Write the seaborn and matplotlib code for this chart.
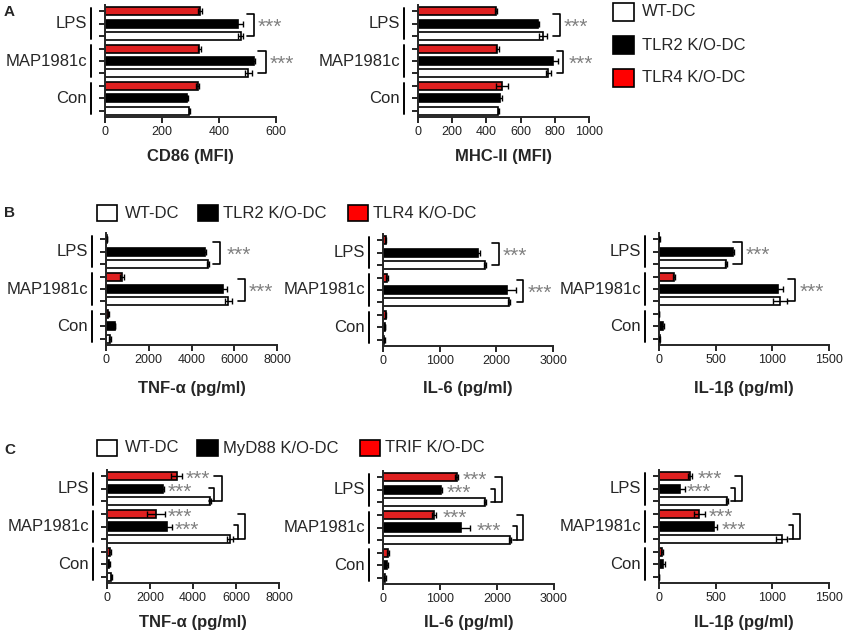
import matplotlib
matplotlib.use('Agg')
import matplotlib.pyplot as plt
from matplotlib.patches import Rectangle
from matplotlib.transforms import offset_copy, blended_transform_factory, ScaledTranslation
import pandas as pd
import seaborn as sns

sns.set_style('ticks')
plt.rcParams['font.family'] = ['Liberation Sans', 'DejaVu Sans']

groups = ['LPS', 'MAP1981c', 'Con']
tlr_names = ['WT-DC', 'TLR2 K/O-DC', 'TLR4 K/O-DC']
myd_names = ['WT-DC', 'MyD88 K/O-DC', 'TRIF K/O-DC']
colors = ['white', 'black', '#ff0000']

# values per group: LPS, MAP1981c, Con
# A - CD86 / MHC-II (MFI)
cd86_wt = [476, 503, 295]
cd86_tlr2 = [468, 523, 289]
cd86_tlr4 = [333, 331, 325]
cd86_wt_err = [8, 12, 2]
cd86_tlr2_err = [15, 5, 2]
cd86_tlr4_err = [8, 5, 5]

mhc_wt = [730, 762, 470]
mhc_tlr2 = [704, 791, 480]
mhc_tlr4 = [456, 464, 489]
mhc_wt_err = [25, 15, 5]
mhc_tlr2_err = [5, 25, 10]
mhc_tlr4_err = [8, 10, 35]

# B - cytokines, TLR2/TLR4 knockouts (pg/ml)
tnf_b_wt = [4787, 5724, 190]
tnf_b_tlr2 = [4632, 5490, 421]
tnf_b_tlr4 = [50, 733, 100]
tnf_b_wt_err = [50, 150, 30]
tnf_b_tlr2_err = [50, 150, 20]
tnf_b_tlr4_err = [20, 100, 20]

il6_b_wt = [1800, 2229, 25]
il6_b_tlr2 = [1682, 2182, 35]
il6_b_tlr4 = [50, 65, 50]
il6_b_wt_err = [15, 15, 5]
il6_b_tlr2_err = [30, 160, 5]
il6_b_tlr4_err = [10, 15, 10]

il1_b_wt = [591, 1068, 5]
il1_b_tlr2 = [650, 1053, 32]
il1_b_tlr4 = [3, 132, 2]
il1_b_wt_err = [10, 60, 2]
il1_b_tlr2_err = [10, 40, 10]
il1_b_tlr4_err = [2, 5, 1]

# C - cytokines, MyD88/TRIF knockouts (pg/ml)
tnf_c_wt = [4791, 5721, 190]
tnf_c_myd = [2589, 2806, 100]
tnf_c_trif = [3240, 2279, 140]
tnf_c_wt_err = [60, 150, 20]
tnf_c_myd_err = [50, 200, 20]
tnf_c_trif_err = [250, 400, 30]

il6_c_wt = [1789, 2228, 35]
il6_c_myd = [1012, 1363, 76]
il6_c_trif = [1292, 895, 94]
il6_c_wt_err = [20, 10, 10]
il6_c_myd_err = [20, 160, 15]
il6_c_trif_err = [30, 30, 20]

il1_c_wt = [603, 1083, 3]
il1_c_myd = [185, 485, 37]
il1_c_trif = [274, 356, 26]
il1_c_wt_err = [10, 50, 1]
il1_c_myd_err = [45, 25, 15]
il1_c_trif_err = [15, 50, 5]

W, H = 851, 644
fig = plt.figure(figsize=(W / 100, H / 100), dpi=100)


def px_rect(x0, x1, y0, y1):
    return [x0 / W, 1 - y1 / H, (x1 - x0) / W, (y1 - y0) / H]


def draw_panel(rect, names, vals, errs, xmax, xstep, xlabel, label_y):
    ax = fig.add_axes(px_rect(*rect))
    rows = []
    for g, grp in enumerate(groups):
        for k in (2, 1, 0):
            rows.append({'slot': f'{grp}|{names[k]}', 'genotype': names[k],
                         'value': vals[k][g], 'err': errs[k][g]})
    df = pd.DataFrame(rows)
    df['pos'] = range(len(df))
    sns.barplot(data=df, x='value', y='slot', hue='genotype', order=list(df['slot']),
                hue_order=names, palette=dict(zip(names, colors)), dodge=False,
                width=0.64, edgecolor='black', linewidth=1.2, errorbar=None,
                legend=False, ax=ax)
    ax.errorbar(df['value'], df['pos'], xerr=df['err'], fmt='none', ecolor='black',
                elinewidth=1, capsize=2.5, capthick=1, zorder=5)
    ax.set_xlim(0, xmax)
    ax.set_xticks(range(0, xmax + 1, xstep))
    ax.set_ylim(8.5, -0.5)
    ax.set_yticks(range(9))
    ax.set_yticklabels([])
    ax.set_ylabel('')
    ax.set_xlabel(xlabel, fontsize=12, fontweight='bold')
    ax.xaxis.set_label_coords(0.5, (rect[3] - label_y) / (rect[3] - rect[2]))
    ax.xaxis.label.set_va('center')
    ax.tick_params(axis='both', direction='out', width=1.2, length=4, color='black',
                   labelsize=9, labelcolor='#222222', pad=2.5)
    ax.spines[['top', 'right']].set_visible(False)
    ax.spines[['left', 'bottom']].set_linewidth(1.4)

    base = blended_transform_factory(ax.transAxes, ax.transData)
    lab_tr = base + ScaledTranslation(-18 / 100, 0, fig.dpi_scale_trans)
    line_tr = base + ScaledTranslation(-14 / 100, 0, fig.dpi_scale_trans)
    for g, grp in enumerate(groups):
        ax.text(0, 3 * g + 1, grp, transform=lab_tr, ha='right', va='center', fontsize=12)
        ax.plot([0, 0], [3 * g - 0.25, 3 * g + 2.25], transform=line_tr,
                color='black', lw=1.4, clip_on=False)
    return ax


def stars(ax, x, y):
    tr = offset_copy(ax.transData, fig=fig, x=0, y=-6.5, units='points')
    ax.text(x, y, '***', transform=tr, ha='left', va='baseline',
            fontsize=15, color='#808080')


def sig_simple(ax, spec):
    for g, (xl, xv, xt) in enumerate(spec):
        y0, y1 = 3 * g + 0.2, 3 * g + 2
        ax.plot([xl, xv, xv, xl], [y0, y0, y1, y1], color='black', lw=1.2,
                clip_on=False)
        stars(ax, xt, 3 * g + 1)


def sig_double(ax, star_x, spec):
    for g, (xi, xo) in enumerate(spec):
        stars(ax, star_x[2 * g], 3 * g)
        stars(ax, star_x[2 * g + 1], 3 * g + 1)
        d = (xo - xi) * 0.6
        ax.plot([xi, xo, xo, xi - d], [3 * g, 3 * g, 3 * g + 2, 3 * g + 2],
                color='black', lw=1.2, clip_on=False)
        ax.plot([xi - d, xi, xi], [3 * g + 0.9, 3 * g + 0.9, 3 * g + 2],
                color='black', lw=1.2, clip_on=False)


def legend_boxes(items, y, h):
    for x0, x1, xt, label, color in items:
        fig.add_artist(Rectangle((x0 / W, 1 - (y + h / 2) / H), (x1 - x0) / W, h / H,
                                 transform=fig.transFigure, facecolor=color,
                                 edgecolor='black', lw=1.2))
        fig.text(xt / W, 1 - y / H, label, va='center', ha='left', fontsize=12)


# row A
ax = draw_panel((105, 276, 5, 117), tlr_names,
                [cd86_wt, cd86_tlr2, cd86_tlr4],
                [cd86_wt_err, cd86_tlr2_err, cd86_tlr4_err],
                600, 200, 'CD86 (MFI)', 157)
sig_simple(ax, [(498, 523, 537), (537, 565, 579)])

ax = draw_panel((418, 589, 5, 117), tlr_names,
                [mhc_wt, mhc_tlr2, mhc_tlr4],
                [mhc_wt_err, mhc_tlr2_err, mhc_tlr4_err],
                1000, 200, 'MHC-II (MFI)', 157)
sig_simple(ax, [(790, 830, 854), (813, 848, 883)])

for i, (lab, col) in enumerate(zip(tlr_names, colors)):
    legend_boxes([(613, 634, 642, lab, col)], 12 + 33 * i, 18)

# row B
ax = draw_panel((106, 277, 233, 345), tlr_names,
                [tnf_b_wt, tnf_b_tlr2, tnf_b_tlr4],
                [tnf_b_wt_err, tnf_b_tlr2_err, tnf_b_tlr4_err],
                8000, 2000, 'TNF-α (pg/ml)', 389)
sig_simple(ax, [(5006, 5333, 5661), (6175, 6503, 6650)])

ax = draw_panel((383, 553, 234, 346), tlr_names,
                [il6_b_wt, il6_b_tlr2, il6_b_tlr4],
                [il6_b_wt_err, il6_b_tlr2_err, il6_b_tlr4_err],
                3000, 1000, 'IL-6 (pg/ml)', 389)
sig_simple(ax, [(1923, 2047, 2118), (2365, 2470, 2559)])

ax = draw_panel((659, 829, 233, 345), tlr_names,
                [il1_b_wt, il1_b_tlr2, il1_b_tlr4],
                [il1_b_wt_err, il1_b_tlr2_err, il1_b_tlr4_err],
                1500, 500, 'IL-1β (pg/ml)', 389)
sig_simple(ax, [(653, 732, 768), (1138, 1200, 1244)])

legend_boxes([(97, 117, 125, tlr_names[0], colors[0]),
              (198, 218, 223, tlr_names[1], colors[1]),
              (348, 368, 373, tlr_names[2], colors[2])], 213, 16)

# row C
ax = draw_panel((107, 279, 470, 583), myd_names,
                [tnf_c_wt, tnf_c_myd, tnf_c_trif],
                [tnf_c_wt_err, tnf_c_myd_err, tnf_c_trif_err],
                8000, 2000, 'TNF-α (pg/ml)', 622)
sig_double(ax, [3650, 2837, 2837, 3163], [(4977, 5349), (6093, 6419)])

ax = draw_panel((383, 554, 471, 584), myd_names,
                [il6_c_wt, il6_c_myd, il6_c_trif],
                [il6_c_wt_err, il6_c_myd_err, il6_c_trif_err],
                3000, 1000, 'IL-6 (pg/ml)', 622)
sig_double(ax, [1404, 1123, 1053, 1649], [(1965, 2088), (2351, 2456)])

ax = draw_panel((659, 829, 470, 583), myd_names,
                [il1_c_wt, il1_c_myd, il1_c_trif],
                [il1_c_wt_err, il1_c_myd_err, il1_c_trif_err],
                1500, 500, 'IL-1β (pg/ml)', 622)
sig_double(ax, [344, 247, 441, 556], [(671, 732), (1182, 1244)])

legend_boxes([(97, 117, 125, myd_names[0], colors[0]),
              (197, 218, 223, myd_names[1], colors[1]),
              (360, 380, 385, myd_names[2], colors[2])], 448, 16)

# panel letters
for letter, y in (('A', 12), ('B', 213), ('C', 450)):
    fig.text(4 / W, 1 - y / H, letter, fontsize=11, fontweight='bold',
             va='center', ha='left')

fig.savefig('out.png', dpi=100)
